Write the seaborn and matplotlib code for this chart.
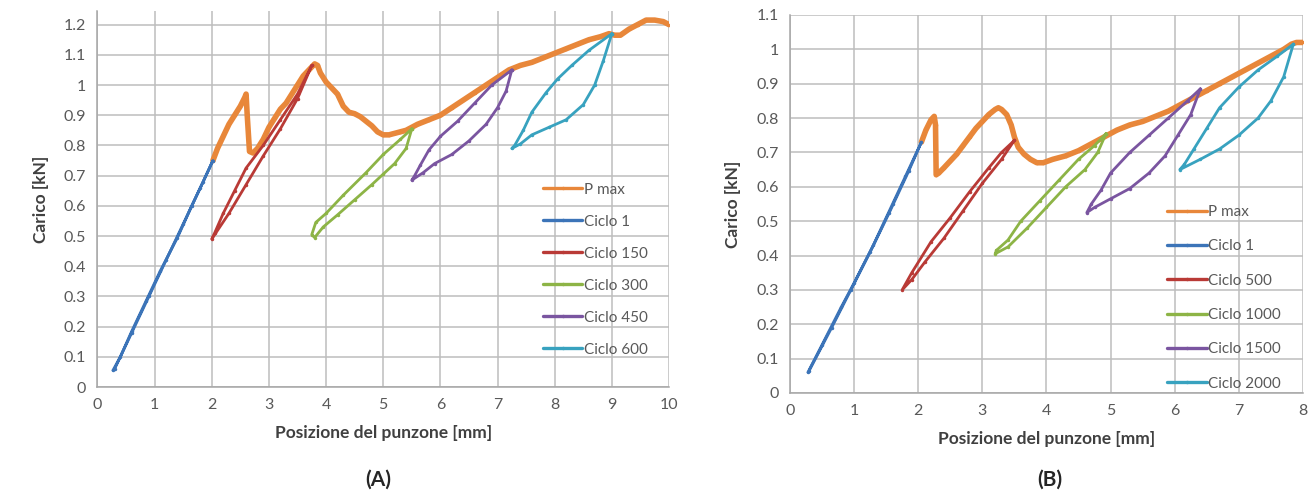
"""Carico vs posizione del punzone: cicli di carico per le prove (A) e (B)."""

import matplotlib.pyplot as plt
import numpy as np
import pandas as pd
import seaborn as sns

# ---------------------------------------------------------------- data (A)
a_pmax_x = [2.02, 2.1, 2.2, 2.3, 2.4, 2.5, 2.58, 2.6, 2.62, 2.66, 2.72, 2.8, 2.9,
            3.0, 3.1, 3.2, 3.3, 3.4, 3.5, 3.6, 3.7, 3.8, 3.85, 3.9, 4.0, 4.1,
            4.2, 4.3, 4.4, 4.5, 4.6, 4.7, 4.8, 4.9, 5.0, 5.1, 5.2, 5.3, 5.4,
            5.5, 5.6, 5.8, 6.0, 6.2, 6.4, 6.6, 6.8, 7.0, 7.2, 7.4, 7.6, 7.8,
            8.0, 8.2, 8.4, 8.6, 8.8, 8.95, 9.05, 9.15, 9.3, 9.45, 9.6, 9.75,
            9.9, 10.0]
a_pmax_y = [0.75, 0.79, 0.83, 0.87, 0.9, 0.93, 0.96, 0.97, 0.9, 0.78, 0.775,
            0.79, 0.82, 0.86, 0.89, 0.92, 0.94, 0.97, 1.0, 1.03, 1.05, 1.07,
            1.065, 1.04, 1.01, 0.99, 0.97, 0.93, 0.91, 0.905, 0.895, 0.88,
            0.865, 0.845, 0.835, 0.835, 0.84, 0.845, 0.85, 0.86, 0.87, 0.885,
            0.9, 0.925, 0.95, 0.975, 1.0, 1.025, 1.05, 1.065, 1.075, 1.09,
            1.105, 1.12, 1.135, 1.15, 1.16, 1.17, 1.165, 1.165, 1.185, 1.2,
            1.215, 1.215, 1.21, 1.2]

a_c1_x = [0.27, 0.4, 0.6, 0.85, 1.1, 1.4, 1.65, 1.85, 2.02, 1.8, 1.5, 1.2,
          0.9, 0.6, 0.3]
a_c1_y = [0.055, 0.1, 0.185, 0.285, 0.385, 0.495, 0.6, 0.68, 0.75, 0.66,
          0.54, 0.42, 0.3, 0.18, 0.06]

a_c150_x = [3.75, 3.5, 3.2, 2.9, 2.6, 2.3, 2.0, 2.05, 2.2, 2.4, 2.6, 2.9,
            3.2, 3.5, 3.75]
a_c150_y = [1.065, 0.955, 0.855, 0.765, 0.67, 0.575, 0.49, 0.51, 0.575, 0.65,
            0.725, 0.8, 0.885, 0.97, 1.065]

a_c300_x = [5.5, 5.4, 5.2, 5.0, 4.8, 4.5, 4.2, 3.95, 3.8, 3.75, 3.82, 4.0,
            4.3, 4.7, 5.0, 5.3, 5.5]
a_c300_y = [0.855, 0.79, 0.74, 0.705, 0.67, 0.62, 0.57, 0.53, 0.495, 0.505,
            0.545, 0.575, 0.635, 0.71, 0.77, 0.82, 0.855]

a_c450_x = [7.25, 7.15, 7.0, 6.8, 6.5, 6.2, 5.9, 5.7, 5.5, 5.55, 5.65, 5.8,
            6.0, 6.3, 6.6, 6.9, 7.25]
a_c450_y = [1.05, 0.98, 0.925, 0.87, 0.815, 0.77, 0.74, 0.71, 0.685, 0.7,
            0.735, 0.785, 0.83, 0.88, 0.94, 1.0, 1.05]

a_c600_x = [9.0, 8.85, 8.7, 8.5, 8.2, 7.9, 7.6, 7.4, 7.25, 7.3, 7.45, 7.6,
            7.85, 8.05, 8.3, 8.6, 9.0]
a_c600_y = [1.17, 1.08, 1.0, 0.935, 0.885, 0.86, 0.835, 0.805, 0.79, 0.8,
            0.85, 0.91, 0.975, 1.02, 1.065, 1.115, 1.17]

# ---------------------------------------------------------------- data (B)
b_pmax_x = [2.05, 2.12, 2.2, 2.25, 2.27, 2.28, 2.32, 2.4, 2.5, 2.6, 2.7,
            2.8, 2.9, 3.0, 3.1, 3.2, 3.25, 3.3, 3.38, 3.45, 3.5, 3.56, 3.65,
            3.75, 3.85, 3.95, 4.1, 4.3, 4.5, 4.7, 4.9, 5.1, 5.3, 5.5, 5.7,
            5.9, 6.1, 6.3, 6.5, 6.7, 6.9, 7.1, 7.3, 7.5, 7.7, 7.82, 7.9, 8.0]
b_pmax_y = [0.73, 0.765, 0.795, 0.805, 0.78, 0.635, 0.64, 0.655, 0.675, 0.695,
            0.72, 0.745, 0.77, 0.79, 0.81, 0.825, 0.83, 0.825, 0.81, 0.78,
            0.745, 0.715, 0.695, 0.68, 0.67, 0.67, 0.68, 0.69, 0.705, 0.725,
            0.745, 0.765, 0.78, 0.79, 0.805, 0.82, 0.84, 0.86, 0.88, 0.9,
            0.92, 0.94, 0.96, 0.98, 1.0, 1.015, 1.02, 1.02]

b_c1_x = [0.28, 0.5, 0.8, 1.0, 1.3, 1.6, 1.8, 2.05, 1.85, 1.55, 1.25, 0.95,
          0.65, 0.3]
b_c1_y = [0.06, 0.14, 0.25, 0.32, 0.43, 0.55, 0.63, 0.73, 0.645, 0.525, 0.41,
          0.3, 0.19, 0.065]

b_c500_x = [3.5, 3.3, 3.0, 2.7, 2.4, 2.1, 1.9, 1.75, 1.9, 2.2, 2.5, 2.8,
            3.1, 3.3, 3.5]
b_c500_y = [0.735, 0.68, 0.61, 0.53, 0.45, 0.38, 0.33, 0.3, 0.35, 0.44, 0.51,
            0.585, 0.655, 0.7, 0.735]

b_c1000_x = [4.93, 4.8, 4.6, 4.3, 4.0, 3.7, 3.4, 3.2, 3.22, 3.4, 3.6, 3.9,
             4.2, 4.5, 4.75, 4.93]
b_c1000_y = [0.755, 0.7, 0.65, 0.6, 0.54, 0.48, 0.425, 0.405, 0.415, 0.445,
             0.5, 0.56, 0.62, 0.68, 0.72, 0.755]

b_c1500_x = [6.4, 6.25, 6.05, 5.85, 5.6, 5.3, 5.0, 4.75, 4.63, 4.7, 4.85,
             5.0, 5.3, 5.6, 5.9, 6.2, 6.4]
b_c1500_y = [0.885, 0.81, 0.75, 0.69, 0.64, 0.595, 0.565, 0.54, 0.525, 0.55,
             0.59, 0.64, 0.7, 0.75, 0.8, 0.85, 0.885]

b_c2000_x = [7.85, 7.7, 7.5, 7.3, 7.0, 6.7, 6.4, 6.08, 6.15, 6.3, 6.5, 6.7,
             7.0, 7.3, 7.6, 7.85]
b_c2000_y = [1.015, 0.92, 0.85, 0.8, 0.75, 0.71, 0.68, 0.65, 0.665, 0.71,
             0.77, 0.83, 0.89, 0.94, 0.98, 1.015]

COLORS = {
    "P max": "#E8873A",
    "blue": "#3C74B8",
    "red": "#B93A36",
    "green": "#8DB446",
    "purple": "#7A55A0",
    "cyan": "#38A2BF",
}

panel_a = [
    ("P max", a_pmax_x, a_pmax_y, COLORS["P max"]),
    ("Ciclo 1", a_c1_x, a_c1_y, COLORS["blue"]),
    ("Ciclo 150", a_c150_x, a_c150_y, COLORS["red"]),
    ("Ciclo 300", a_c300_x, a_c300_y, COLORS["green"]),
    ("Ciclo 450", a_c450_x, a_c450_y, COLORS["purple"]),
    ("Ciclo 600", a_c600_x, a_c600_y, COLORS["cyan"]),
]
panel_b = [
    ("P max", b_pmax_x, b_pmax_y, COLORS["P max"]),
    ("Ciclo 1", b_c1_x, b_c1_y, COLORS["blue"]),
    ("Ciclo 500", b_c500_x, b_c500_y, COLORS["red"]),
    ("Ciclo 1000", b_c1000_x, b_c1000_y, COLORS["green"]),
    ("Ciclo 1500", b_c1500_x, b_c1500_y, COLORS["purple"]),
    ("Ciclo 2000", b_c2000_x, b_c2000_y, COLORS["cyan"]),
]

sns.set_style("whitegrid", {
    "grid.color": "#BDBDBD",
    "axes.edgecolor": "#A6A6A6",
})
plt.rcParams["font.family"] = ["Lato", "DejaVu Sans"]

GRAY_TXT = "#595959"


def draw_panel(ax, series, xmax, ymax, yticks, legend_anchor, spacing):
    for label, xs, ys, color in series:
        df = pd.DataFrame({"x": xs, "y": ys})
        is_max = label == "P max"
        sns.lineplot(data=df, x="x", y="y", sort=False, estimator=None, ax=ax,
                     color=color, linewidth=4.0 if is_max else 2.0,
                     marker="o", markersize=2.5, markeredgewidth=0,
                     label=label)
    ax.set_xlim(0, xmax)
    ax.set_ylim(0, ymax)
    ax.set_xticks(np.arange(0, xmax + 1))
    ax.set_yticks(yticks)
    ax.set_yticklabels([f"{v:g}" for v in yticks])
    ax.grid(True, color="#BDBDBD", linewidth=1.1)
    for side in ("top", "right"):
        ax.spines[side].set_visible(False)
    for side in ("left", "bottom"):
        ax.spines[side].set_color("#A6A6A6")
        ax.spines[side].set_linewidth(1.1)
    ax.tick_params(axis="both", length=0, labelsize=11.5, colors=GRAY_TXT, pad=8)
    ax.set_xlabel("Posizione del punzone [mm]", fontsize=12.5,
                  fontweight="bold", color="#404040", labelpad=9)
    ax.set_ylabel("Carico [kN]", fontsize=12.5, fontweight="bold",
                  color="#404040", labelpad=11)
    leg = ax.legend(loc="upper left", bbox_to_anchor=legend_anchor,
                    bbox_transform=ax.figure.transFigure, frameon=False,
                    fontsize=11, handlelength=2.6, handletextpad=0.1,
                    labelspacing=spacing, borderaxespad=0)
    for t in leg.get_texts():
        t.set_color(GRAY_TXT)
    # the legend keys are drawn thin for every series, as in the source
    for h in leg.legend_handles:
        h.set_linewidth(2.4)


fig = plt.figure(figsize=(13.12, 4.97), dpi=100)
ax_a = fig.add_axes([0.0743, 0.2213, 0.4356, 0.7565])
ax_b = fig.add_axes([0.6021, 0.2093, 0.3910, 0.7606])

draw_panel(ax_a, panel_a, 10, 1.245, np.round(np.arange(0, 1.21, 0.1), 1),
           (0.409, 0.645), 1.18)
draw_panel(ax_b, panel_b, 8, 1.1, np.round(np.arange(0, 1.11, 0.1), 1),
           (0.885, 0.6), 1.33)

fig.text(0.288, 0.022, "(A)", fontsize=15, fontweight="bold",
         color="#262626", ha="center")
fig.text(0.800, 0.022, "(B)", fontsize=15, fontweight="bold",
         color="#262626", ha="center")

fig.savefig("out.png", dpi=100)
